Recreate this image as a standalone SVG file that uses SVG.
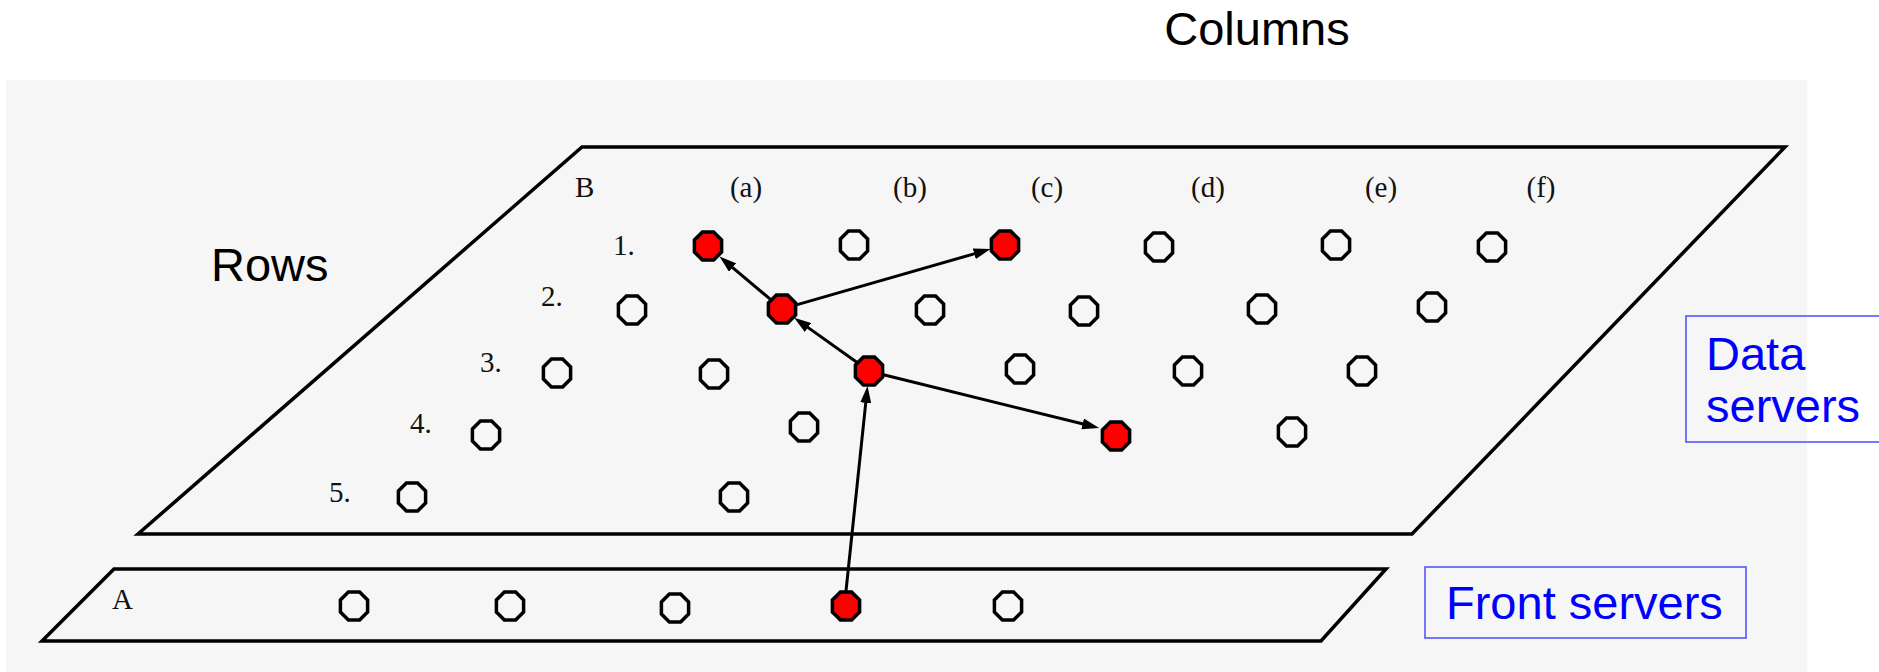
<svg xmlns="http://www.w3.org/2000/svg" xmlns:xlink="http://www.w3.org/1999/xlink" width="1879" height="672" viewBox="0 0 1879 672">
  <style>
    .title { font-family: "Liberation Sans", Arial, sans-serif; font-size: 47px; fill: #000; }
    .blue { font-family: "Liberation Sans", Arial, sans-serif; font-size: 47px; fill: #0000ff; }
    .box { fill: none; stroke: #4a4aff; stroke-width: 1.5; }
    .plane { fill: none; stroke: #000; stroke-width: 3.5; stroke-linejoin: miter; }
    .lbl { font-family: "Liberation Serif", "Times New Roman", serif; font-size: 29px; fill: #111; }
    .col { text-anchor: middle; }
    .n { fill: none; stroke: #000; stroke-width: 3.5; }
    .n.on { fill: #ff0000; }
    .link { fill: none; stroke: #000; stroke-width: 3; marker-end: url(#head); }
  </style>
  <defs>
    <!-- octagonal server marker, centred on the origin -->
    <path id="oct" d="M-5.6,-14 L5.6,-14 L13.6,-6 L13.6,6 L5.6,14 L-5.6,14 L-13.6,6 L-13.6,-6 Z"/>
    <marker id="head" markerUnits="userSpaceOnUse" markerWidth="18" markerHeight="11" refX="8" refY="5.5" orient="auto">
      <path d="M0,0 L17,5.5 L0,11 Z" fill="#000"/>
    </marker>
  </defs>

  <!-- backdrop -->
  <rect x="6" y="80" width="1801" height="592" fill="#f6f6f6"/>

  <!-- headings -->
  <text class="title" x="1257" y="45" text-anchor="middle">Columns</text>
  <text class="title" x="211" y="281">Rows</text>

  <!-- data server plane (B) -->
  <g id="plane-b">
    <polygon class="plane" points="582,147 1785,147 1412,534 138,534"/>
    <text class="lbl" x="575" y="197">B</text>
    <text class="lbl col" x="746" y="197">(a)</text>
    <text class="lbl col" x="910" y="197">(b)</text>
    <text class="lbl col" x="1047" y="197">(c)</text>
    <text class="lbl col" x="1208" y="197">(d)</text>
    <text class="lbl col" x="1381" y="197">(e)</text>
    <text class="lbl col" x="1541" y="197">(f)</text>
    <text class="lbl" x="613" y="255">1.</text>
    <text class="lbl" x="541" y="306">2.</text>
    <text class="lbl" x="480" y="372">3.</text>
    <text class="lbl" x="410" y="433">4.</text>
    <text class="lbl" x="329" y="502">5.</text>
  </g>

  <!-- front server plane (A) -->
  <g id="plane-a">
    <polygon class="plane" points="114,569 1386,569 1321,641 42,641"/>
    <text class="lbl" x="112" y="609">A</text>
  </g>

  <!-- connectors -->
  <g id="connectors">
    <path id="c-a4-b3c" class="link" d="M846,591 L866.6,394.9"/>
    <path id="c-b3c-b2b" class="link" d="M856.8,362.3 L801.5,322.9"/>
    <path id="c-b2b-b1a" class="link" d="M770.5,299.4 L726.4,262.4"/>
    <path id="c-b2b-b1c" class="link" d="M796.4,304.9 L981.9,251.6"/>
    <path id="c-b3c-b4c" class="link" d="M883.5,374.8 L1090.4,425.8"/>
  </g>

  <!-- row 1 -->
  <g id="b1a"><use xlink:href="#oct" class="n on" x="708" y="246"/></g>
  <g id="b1b"><use xlink:href="#oct" class="n" x="854" y="245"/></g>
  <g id="b1c"><use xlink:href="#oct" class="n on" x="1005" y="245"/></g>
  <g id="b1d"><use xlink:href="#oct" class="n" x="1159" y="247"/></g>
  <g id="b1e"><use xlink:href="#oct" class="n" x="1336" y="245"/></g>
  <g id="b1f"><use xlink:href="#oct" class="n" x="1492" y="247"/></g>
  <!-- row 2 -->
  <g id="b2a"><use xlink:href="#oct" class="n" x="632" y="310"/></g>
  <g id="b2b"><use xlink:href="#oct" class="n on" x="782" y="309"/></g>
  <g id="b2c"><use xlink:href="#oct" class="n" x="930" y="310"/></g>
  <g id="b2d"><use xlink:href="#oct" class="n" x="1084" y="311"/></g>
  <g id="b2e"><use xlink:href="#oct" class="n" x="1262" y="309"/></g>
  <g id="b2f"><use xlink:href="#oct" class="n" x="1432" y="307"/></g>
  <!-- row 3 -->
  <g id="b3a"><use xlink:href="#oct" class="n" x="557" y="373"/></g>
  <g id="b3b"><use xlink:href="#oct" class="n" x="714" y="374"/></g>
  <g id="b3c"><use xlink:href="#oct" class="n on" x="869" y="371"/></g>
  <g id="b3d"><use xlink:href="#oct" class="n" x="1020" y="369"/></g>
  <g id="b3e"><use xlink:href="#oct" class="n" x="1188" y="371"/></g>
  <g id="b3f"><use xlink:href="#oct" class="n" x="1362" y="371"/></g>
  <!-- row 4 -->
  <g id="b4a"><use xlink:href="#oct" class="n" x="486" y="435"/></g>
  <g id="b4b"><use xlink:href="#oct" class="n" x="804" y="427"/></g>
  <g id="b4c"><use xlink:href="#oct" class="n on" x="1116" y="436"/></g>
  <g id="b4d"><use xlink:href="#oct" class="n" x="1292" y="432"/></g>
  <!-- row 5 -->
  <g id="b5a"><use xlink:href="#oct" class="n" x="412" y="497"/></g>
  <g id="b5b"><use xlink:href="#oct" class="n" x="734" y="497"/></g>
  <!-- front servers -->
  <g id="a1"><use xlink:href="#oct" class="n" x="354" y="606"/></g>
  <g id="a2"><use xlink:href="#oct" class="n" x="510" y="606"/></g>
  <g id="a3"><use xlink:href="#oct" class="n" x="675" y="608"/></g>
  <g id="a4"><use xlink:href="#oct" class="n on" x="846" y="606"/></g>
  <g id="a5"><use xlink:href="#oct" class="n" x="1008" y="606"/></g>

  <!-- legend boxes -->
  <g id="legend-data">
    <rect class="box" x="1686" y="316" width="200" height="126"/>
    <text class="blue" x="1706" y="370">Data</text>
    <text class="blue" x="1706" y="422">servers</text>
  </g>
  <g id="legend-front">
    <rect class="box" x="1425" y="567" width="321" height="71"/>
    <text class="blue" x="1446" y="619">Front servers</text>
  </g>
</svg>
